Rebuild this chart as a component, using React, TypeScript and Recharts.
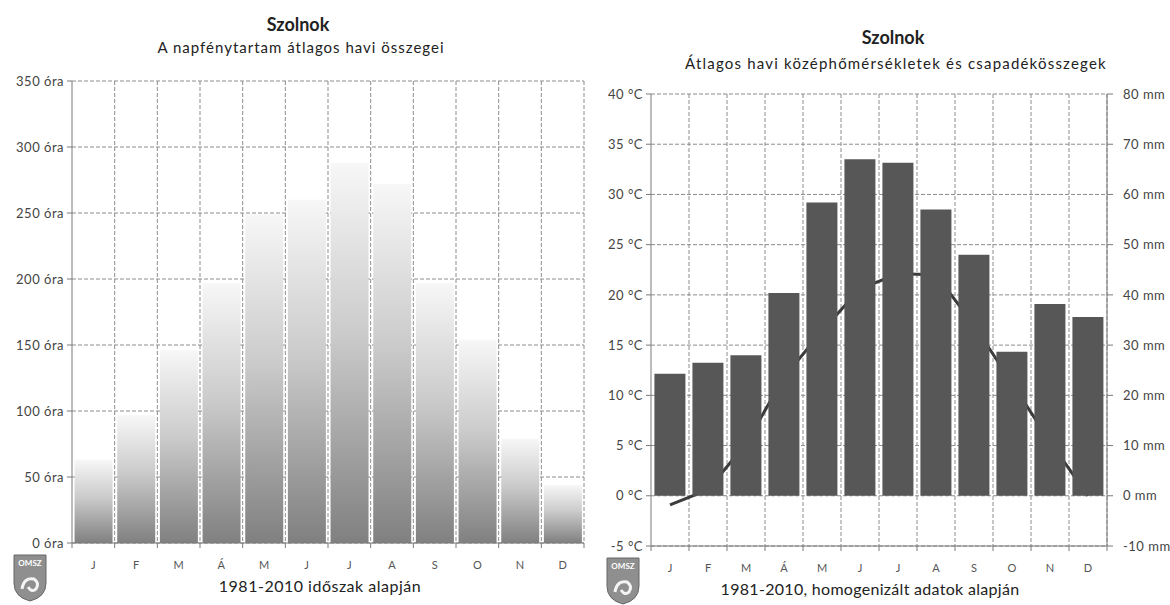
import React from "react";
import {
  Bar,
  BarChart,
  CartesianGrid,
  ComposedChart,
  Line,
  XAxis,
  YAxis,
} from "recharts";

const months = ["J", "F", "M", "Á", "M", "J", "J", "A", "S", "O", "N", "D"];
const sunshine = [63, 97, 146, 197, 249, 260, 288, 272, 197, 154, 79, 44];
const temperature = [-0.9, 0.6, 5.2, 11.8, 16.4, 20.6, 22.1, 22.0, 17.0, 11.2, 5.4, 0.0];
const precipitation = [24.3, 26.5, 28.0, 40.4, 58.4, 67.0, 66.3, 57.0, 48.0, 28.7, 38.2, 35.6];

const sunTicks = [0, 50, 100, 150, 200, 250, 300, 350];
const tempTicks = [-5, 0, 5, 10, 15, 20, 25, 30, 35, 40];
const mmTicks = [-10, 0, 10, 20, 30, 40, 50, 60, 70, 80];

const sunData = months.map((month, i) => ({ month, sunshine: sunshine[i] }));
const climateData = months.map((month, i) => ({
  month,
  temperature: temperature[i],
  precipitation: precipitation[i],
}));

const FONT = "Lato, 'Noto Sans', sans-serif";
const AXIS = "#7a7a7a";
const GRID = "#8c8c8c";

// vertical grid lines sit on the category boundaries, like in Excel
const boundaries = ({ offset }: any) =>
  Array.from({ length: 12 }, (_, i) => offset.left + ((i + 1) * offset.width) / 12);

function MonthTick(props: any) {
  const { x, y, payload, index } = props;
  const half = payload?.offset ?? 0;
  return (
    <g>
      <line x1={x - half} y1={y} x2={x - half} y2={y + 5} stroke={AXIS} />
      {index === 11 && <line x1={x + half} y1={y} x2={x + half} y2={y + 5} stroke={AXIS} />}
      <text x={x} y={y + 26} textAnchor="middle" fill="#555" fontSize={11} fontFamily={FONT}>
        {payload.value}
      </text>
    </g>
  );
}

function Logo({ left, top }: { left: number; top: number }) {
  return (
    <svg width={36} height={50} style={{ position: "absolute", left, top }}>
      <path d="M2,2 H34 V30 Q34,44 18,48 Q2,44 2,30 Z" fill="#8f8f8f" stroke="#666" />
      <text x={18} y={13} textAnchor="middle" fill="#fff" fontSize={8} fontWeight="bold" fontFamily={FONT}>
        OMSZ
      </text>
      <path d="M10,36 Q12,24 22,26 Q28,30 24,36 Q20,40 16,34" fill="none" stroke="#f4f4f4" strokeWidth={3} />
    </svg>
  );
}

const titleStyle: React.CSSProperties = {
  position: "absolute",
  textAlign: "center",
  fontFamily: FONT,
  color: "#222",
  whiteSpace: "nowrap",
};

const tickText = { fill: "#444", fontSize: 13, fontFamily: FONT, letterSpacing: 0.5 };

export default function App() {
  return (
    <div style={{ position: "absolute", left: 0, top: 0, width: 1170, height: 605, background: "#fff", overflow: "hidden" }}>
      {/* left: sunshine */}
      <div style={{ ...titleStyle, left: 98, width: 400, top: 13, fontSize: 18, fontWeight: "bold" }}>Szolnok</div>
      <div style={{ ...titleStyle, left: 101, width: 400, top: 38, fontSize: 15, letterSpacing: 1 }}>
        A napfénytartam átlagos havi összegei
      </div>
      <div style={{ position: "absolute", left: 0, top: 0 }}>
        <BarChart
          width={590}
          height={605}
          data={sunData}
          margin={{ top: 81, right: 6, bottom: 32, left: 10 }}
          barCategoryGap="6%"
        >
          <defs>
            <linearGradient id="sunFill" x1="0" y1="0" x2="0" y2="1">
              <stop offset="0%" stopColor="#f7f7f7" />
              <stop offset="45%" stopColor="#cbcbcb" />
              <stop offset="100%" stopColor="#808080" />
            </linearGradient>
          </defs>
          <CartesianGrid stroke={GRID} strokeDasharray="4 2" verticalCoordinatesGenerator={boundaries} />
          <XAxis
            dataKey="month"
            interval={0}
            height={30}
            tickSize={0}
            tickMargin={0}
            tickLine={false}
            axisLine={{ stroke: AXIS }}
            tick={<MonthTick />}
          />
          <YAxis
            domain={[0, 350]}
            ticks={sunTicks}
            width={62}
            tickSize={5}
            tickMargin={3}
            tickFormatter={(v) => `${v} óra`}
            tick={tickText}
            tickLine={{ stroke: AXIS }}
            axisLine={{ stroke: AXIS }}
          />
          <Bar dataKey="sunshine" fill="url(#sunFill)" isAnimationActive={false} />
        </BarChart>
      </div>
      <div style={{ ...titleStyle, left: 120, width: 400, top: 576, fontSize: 16, letterSpacing: 0.5 }}>
        1981-2010 időszak alapján
      </div>
      <Logo left={12} top={553} />

      {/* right: temperature and precipitation */}
      <div style={{ ...titleStyle, left: 693, width: 400, top: 26, fontSize: 18, fontWeight: "bold" }}>Szolnok</div>
      <div style={{ ...titleStyle, left: 685, width: 400, top: 54, fontSize: 15, letterSpacing: 1.2 }}>
        Átlagos havi középhőmérsékletek és csapadékösszegek
      </div>
      <div style={{ position: "absolute", left: 590, top: 0 }}>
        <ComposedChart
          width={580}
          height={605}
          data={climateData}
          margin={{ top: 94, right: 3, bottom: 29, left: 6 }}
          barCategoryGap="9%"
        >
          <CartesianGrid stroke={GRID} strokeDasharray="4 2" verticalCoordinatesGenerator={boundaries} />
          <XAxis
            dataKey="month"
            interval={0}
            height={30}
            tickSize={0}
            tickMargin={0}
            tickLine={false}
            axisLine={{ stroke: AXIS }}
            tick={<MonthTick />}
          />
          <YAxis
            domain={[-5, 40]}
            ticks={tempTicks}
            width={55}
            tickSize={5}
            tickMargin={3}
            tickFormatter={(v) => `${v} °C`}
            tick={tickText}
            tickLine={{ stroke: AXIS }}
            axisLine={{ stroke: AXIS }}
          />
          <YAxis
            yAxisId="mm"
            orientation="right"
            domain={[-10, 80]}
            ticks={mmTicks}
            width={60}
            tickSize={6}
            tickMargin={10}
            tickFormatter={(v) => `${v} mm`}
            tick={{ ...tickText, textAnchor: "start" }}
            tickLine={{ stroke: AXIS }}
            axisLine={{ stroke: AXIS }}
          />
          <Line
            dataKey="temperature"
            type="linear"
            stroke="#3c3c3c"
            strokeWidth={3}
            dot={false}
            isAnimationActive={false}
            zIndex={50}
          />
          <Bar
            dataKey="precipitation"
            yAxisId="mm"
            fill="#575757"
            isAnimationActive={false}
            zIndex={500}
          />
        </ComposedChart>
      </div>
      <div style={{ ...titleStyle, left: 670, width: 400, top: 579, fontSize: 16, letterSpacing: 0.3 }}>
        1981-2010, homogenizált adatok alapján
      </div>
      <Logo left={605} top={556} />
    </div>
  );
}
